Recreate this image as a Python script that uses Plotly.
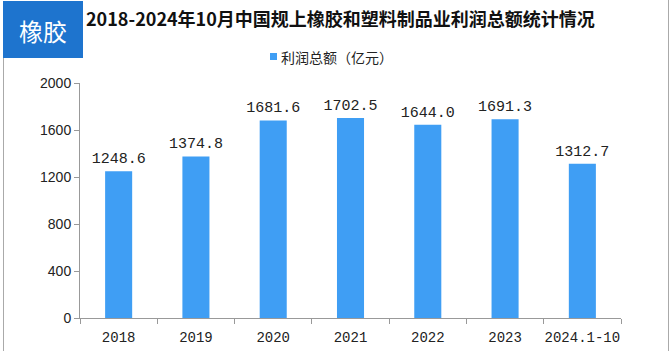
import plotly.graph_objects as go

categories = ["2018", "2019", "2020", "2021", "2022", "2023", "2024.1-10"]
profit = [1248.6, 1374.8, 1681.6, 1702.5, 1644.0, 1691.3, 1312.7]
labels = ["1248.6", "1374.8", "1681.6", "1702.5", "1644.0", "1691.3", "1312.7"]
x_tick_text = ["2018", "2019", "2020", "2021", "2022", "2023", "2024.1-10"]
series_name = "利润总额（亿元）"

W, H = 671, 351
L, R, T, B = 80, 50, 83, 33
PW, PH = W - L - R, H - T - B

def px(x):
    return (x - L) / PW

def py(y):
    return 1 - (y - T) / PH

mono = "Liberation Mono, Noto Sans CJK SC, monospace"
cjk = "Noto Sans CJK SC, sans-serif"
bar_color = "#3F9EF4"

fig = go.Figure()
fig.add_trace(go.Bar(
    x=categories, y=profit, name=series_name,
    marker=dict(color=bar_color, line=dict(width=0)),
    text=labels, textposition="outside", cliponaxis=False, constraintext="none",
    textfont=dict(family=mono, size=15, color="#222"),
    showlegend=False,
))

fig.update_layout(
    width=W, height=H,
    margin=dict(l=L, r=R, t=T, b=B, autoexpand=False),
    paper_bgcolor="white", plot_bgcolor="white",
    bargap=0.65,
    xaxis=dict(tickmode="array", tickvals=categories, ticktext=x_tick_text,
               showline=True, linecolor="#999", linewidth=1, tickangle=0, automargin=False,
               ticks="outside", tickson="boundaries", ticklen=5, tickcolor="#999",
               ticklabelstandoff=6,
               tickfont=dict(family=mono, size=14, color="#222"), showgrid=False),
    yaxis=dict(range=[0, 2000], tickvals=[0, 400, 800, 1200, 1600, 2000],
               showline=True, linecolor="#999", linewidth=1, automargin=False,
               ticks="outside", ticklen=5, tickcolor="#999",
               tickfont=dict(family="Liberation Sans, Arial, sans-serif", size=14, color="#222"),
               showgrid=False, zeroline=False),
)

# legend (custom, small square)
fig.add_shape(type="rect", xref="paper", yref="paper", x0=px(270), x1=px(277), y0=py(53), y1=py(60),
              fillcolor=bar_color, line=dict(width=0))
fig.add_annotation(xref="paper", yref="paper", x=px(279), y=py(57), text=series_name, showarrow=False,
                   xanchor="left", yanchor="middle", font=dict(family=cjk, size=14, color="#222"))
# frame lines
fig.add_shape(type="line", xref="paper", yref="paper", x0=px(3.5), x1=px(3.5), y0=py(58), y1=py(351),
              line=dict(color="#aaa", width=1))
fig.add_shape(type="line", xref="paper", yref="paper", x0=px(668.5), x1=px(668.5), y0=py(0), y1=py(351),
              line=dict(color="#aaa", width=1))
# badge
fig.add_shape(type="rect", xref="paper", yref="paper", x0=px(3), x1=px(83), y0=py(1), y1=py(58),
              fillcolor="#1E74CE", line=dict(width=0), layer="above")
fig.add_annotation(xref="paper", yref="paper", x=px(43), y=py(30), text="橡胶", showarrow=False,
                   font=dict(family=cjk, size=24, color="white"), xanchor="center", yanchor="middle")
# title
fig.add_annotation(xref="paper", yref="paper", x=px(84), y=py(18),
                   text="<b>2018-2024年10月中国规上橡胶和塑料制品业利润总额统计情况</b>",
                   showarrow=False, xanchor="left", yanchor="middle",
                   font=dict(family=cjk, size=18, color="#111"))

fig.write_html("out.html")
